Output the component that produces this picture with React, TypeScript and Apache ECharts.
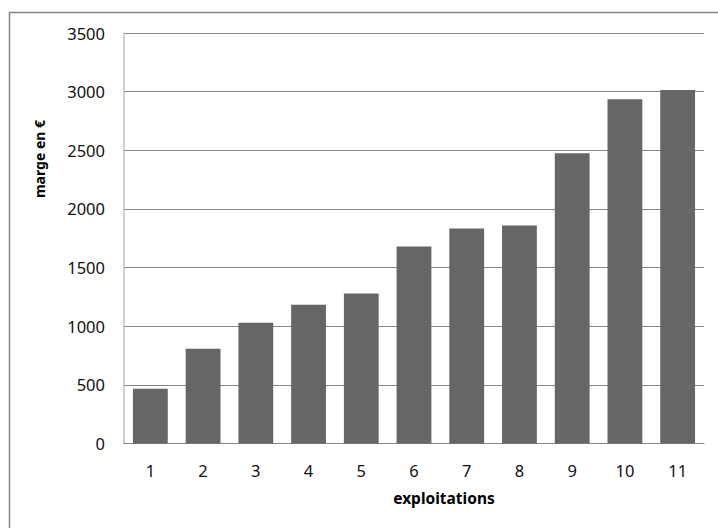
import React, { useEffect, useRef } from "react";
import * as echarts from "echarts";

const categories = ["1", "2", "3", "4", "5", "6", "7", "8", "9", "10", "11"];
const marge = [466, 808, 1030, 1184, 1278, 1679, 1833, 1859, 2474, 2936, 3013];
const xAxisName = "exploitations";
const yAxisName = "marge en €";

const FONT = "'Noto Sans', 'DejaVu Sans', sans-serif";

export default function App() {
  const ref = useRef<HTMLDivElement>(null);
  useEffect(() => {
    if (!ref.current) return;
    const chart = echarts.init(ref.current, undefined, { renderer: "svg" });
    chart.setOption({
      animation: false,
      backgroundColor: "#ffffff",
      grid: { left: 124, right: 14, top: 33, bottom: 84.5, containLabel: false },
      graphic: [
        {
          type: "rect",
          shape: { x: 9.5, y: 12.5, width: 730, height: 540 },
          style: { fill: "none", stroke: "#868686", lineWidth: 1.5 },
          silent: true,
        },
        {
          type: "text",
          x: 39,
          y: 159,
          rotation: Math.PI / 2,
          style: {
            text: yAxisName,
            font: `bold 14px ${FONT}`,
            fill: "#000",
            align: "center",
            verticalAlign: "middle",
          },
        },
        {
          type: "text",
          x: 444,
          y: 498,
          style: {
            text: xAxisName,
            font: `bold 15.5px ${FONT}`,
            fill: "#000",
            align: "center",
            verticalAlign: "middle",
          },
        },
      ],
      xAxis: {
        type: "category",
        data: categories,
        axisLine: { lineStyle: { color: "#868686", width: 1 } },
        axisTick: { show: false },
        axisLabel: { fontFamily: FONT, fontSize: 16.5, color: "#111", margin: 18 },
      },
      yAxis: {
        type: "value",
        min: 0,
        max: 3500,
        interval: 500,
        axisLine: { show: true, lineStyle: { color: "#bfbfbf", width: 1.5 } },
        axisTick: { show: false },
        splitLine: { lineStyle: { color: "#868686", width: 1 } },
        axisLabel: {
          fontFamily: FONT,
          fontSize: 16.5,
          color: "#111",
          margin: 19,
          formatter: (v: number) => String(v),
        },
      },
      series: [
        {
          type: "bar",
          data: marge,
          barCategoryGap: "34%",
          itemStyle: { color: "#666666" },
        },
      ],
    });
    return () => chart.dispose();
  }, []);
  return (
    <div
      ref={ref}
      style={{ position: "absolute", left: 0, top: 0, width: 718, height: 528 }}
    />
  );
}
